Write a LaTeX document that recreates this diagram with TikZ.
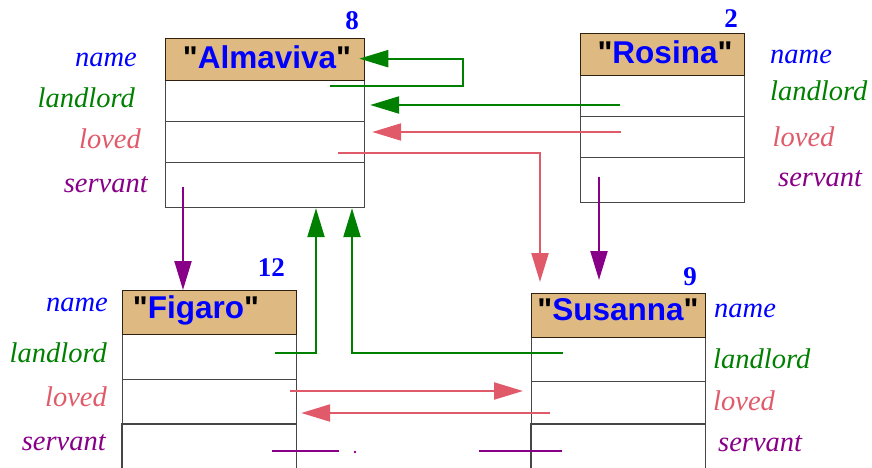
\documentclass[tikz,border=0pt]{standalone}
\usepackage{fontspec}
\setmainfont{Liberation Serif}
\newfontfamily\namefont{Liberation Sans}
\usetikzlibrary{arrows.meta,calc}
\definecolor{fgreen}{RGB}{0,128,0}
\definecolor{fpink}{RGB}{224,90,106}
\definecolor{fpurple}{RGB}{135,0,135}
\definecolor{fblue}{RGB}{0,0,255}
\definecolor{ftan}{RGB}{222,186,130}
\definecolor{fborder}{RGB}{70,70,70}
\begin{document}
\begin{tikzpicture}[x=1pt,y=-1pt,
  fieldbox/.style={draw=fborder, line width=1.2pt, fill=white, inner sep=0pt, anchor=north west},
  openbox/.style={inner sep=0pt, anchor=north west},
  fieldline/.style={draw=fborder, line width=1.2pt},
  namebox/.style={draw=black!75!brown, line width=1.3pt, fill=ftan, inner sep=0pt, anchor=north west},
  nametext/.style={inner sep=0pt, anchor=base, font=\namefont\bfseries\fontsize{31.5}{33}\selectfont},
  numlbl/.style={inner sep=0pt, anchor=base east, text=fblue, font=\fontsize{27}{28}\selectfont\bfseries},
  lbl/.style={inner sep=0pt, font=\fontsize{28.5}{30}\selectfont\itshape},
  lblL/.style={lbl, anchor=base east},
  lblR/.style={lbl, anchor=base west},
  conn/.style={line width=2.2pt},
  arr/.style={conn, -{Triangle[length=29pt,width=17pt]}},
]
\useasboundingbox (0,0) rectangle (872,468);

% ---------- Almaviva ----------
\node[fieldbox, minimum width=199pt, minimum height=41pt] (af1) at (165,80) {};
\node[fieldbox, minimum width=199pt, minimum height=41pt] (af2) at (165,121) {};
\node[fieldbox, minimum width=199pt, minimum height=45pt] (af3) at (165,162) {};
\node[namebox, minimum width=199pt, minimum height=42pt] (aname) at (165,38) {};
\node[nametext] (atext) at (267,69) {"\textcolor{fblue}{Almaviva}"};
\node[numlbl] (anum) at (359,30) {8};
\node[lblL, text=fblue] (al1) at (137,66.5) {name};
\node[lblL, text=fgreen] (al2) at (135,107.5) {landlord};
\node[lblL, text=fpink] (al3) at (141,148) {loved};
\node[lblL, text=fpurple] (al4) at (148,192) {servant};

% ---------- Rosina ----------
\node[fieldbox, minimum width=164pt, minimum height=41pt] (rf1) at (580,75) {};
\node[fieldbox, minimum width=164pt, minimum height=41pt] (rf2) at (580,116) {};
\node[fieldbox, minimum width=164pt, minimum height=45pt] (rf3) at (580,157) {};
\node[namebox, minimum width=164pt, minimum height=42pt] (rname) at (580,33) {};
\node[nametext] (rtext) at (665,64) {"\textcolor{fblue}{Rosina}"};
\node[numlbl] (rnum) at (738,28) {2};
\node[lblR, text=fblue] (rl1) at (770,63.5) {name};
\node[lblR, text=fgreen] (rl2) at (770,101) {landlord};
\node[lblR, text=fpink] (rl3) at (772.5,146.5) {loved};
\node[lblR, text=fpurple] (rl4) at (778,186.5) {servant};

% ---------- Figaro ----------
\node[fieldbox, minimum width=174pt, minimum height=45pt] (ff1) at (122,334) {};
\node[fieldbox, minimum width=174pt, minimum height=45pt] (ff2) at (122,379) {};
\node[openbox, minimum width=174pt, minimum height=44pt] (ff3) at (122,424) {};
\draw[fieldline] (ff3.south west) -- (ff3.north west) -- (ff3.north east) -- (ff3.south east);
\node[namebox, minimum width=174pt, minimum height=44pt] (fname) at (122,290) {};
\node[nametext] (ftext) at (196,318) {"\textcolor{fblue}{Figaro}"};
\node[numlbl] (fnum) at (285,276) {12};
\node[lblL, text=fblue] (fl1) at (108,311.5) {name};
\node[lblL, text=fgreen] (fl2) at (107,362) {landlord};
\node[lblL, text=fpink] (fl3) at (107,406.5) {loved};
\node[lblL, text=fpurple] (fl4) at (106,450.5) {servant};

% ---------- Susanna ----------
\node[fieldbox, minimum width=174pt, minimum height=44pt] (sf1) at (531,337) {};
\node[fieldbox, minimum width=174pt, minimum height=43pt] (sf2) at (531,381) {};
\node[openbox, minimum width=174pt, minimum height=44pt] (sf3) at (531,424) {};
\draw[fieldline] (sf3.south west) -- (sf3.north west) -- (sf3.north east) -- (sf3.south east);
\node[namebox, minimum width=174pt, minimum height=44pt] (sname) at (531,293) {};
\node[nametext] (stext) at (618,320) {"\textcolor{fblue}{Susanna}"};
\node[numlbl] (snum) at (697,285) {9};
\node[lblR, text=fblue] (sl1) at (714,317.5) {name};
\node[lblR, text=fgreen] (sl2) at (713,368) {landlord};
\node[lblR, text=fpink] (sl3) at (713,410.5) {loved};
\node[lblR, text=fpurple] (sl4) at (718,451) {servant};

% ---------- connectors ----------
\coordinate (s1) at (330,86);
\coordinate (s2) at (620,105);
\coordinate (s3) at (621,132);
\coordinate (s4) at (338,153);
\coordinate (s5) at (599,177);
\coordinate (s6) at (183,187);
\coordinate (s7) at (275,353);
\coordinate (s8) at (563,353);
\coordinate (s9) at (290,391);
\coordinate (s10) at (550,413);
\coordinate (s11) at (272,451);
\coordinate (s12) at (479,451);
\coordinate (dot1) at (355,452);

% Almaviva.landlord -> Almaviva
\draw[arr, fgreen] (s1) -- ++(133,0) |- ($(aname.east)+(-6,-1)$);
% Rosina.landlord -> Almaviva
\draw[arr, fgreen] (s2) -- ($(s2 -| af1.east)+(5,0)$);
% Rosina.loved -> Almaviva
\draw[arr, fpink] (s3) -- ($(s3 -| af2.east)+(7,0)$);
% Almaviva.loved -> Susanna
\draw[arr, fpink] (s4) -| ($(sname.north west)+(9,-11)$);
% Rosina.servant -> Susanna
\draw[arr, fpurple] (s5) -- ($(s5 |- sname.north)+(0,-13)$);
% Almaviva.servant -> Figaro
\draw[arr, fpurple] (s6) -- (s6 |- fname.north);
% Figaro.landlord -> Almaviva
\draw[arr, fgreen] (s7) -| ($(af3.south west)+(151,0)$);
% Susanna.landlord -> Almaviva
\draw[arr, fgreen] (s8) -| ($(af3.south west)+(187,0)$);
% Figaro.loved -> Susanna
\draw[arr, fpink] (s9) -- ($(s9 -| sf2.west)+(-8,0)$);
% Susanna.loved -> Figaro
\draw[arr, fpink] (s10) -- ($(s10 -| ff2.east)+(4,0)$);
% servants (leaving the picture)
\draw[conn, fpurple] (s11) -- ++(67,0);
\fill[fpurple] (dot1) circle (1.3pt);
\draw[conn, fpurple] (s12) -- ++(83,0);
\end{tikzpicture}
\end{document}
